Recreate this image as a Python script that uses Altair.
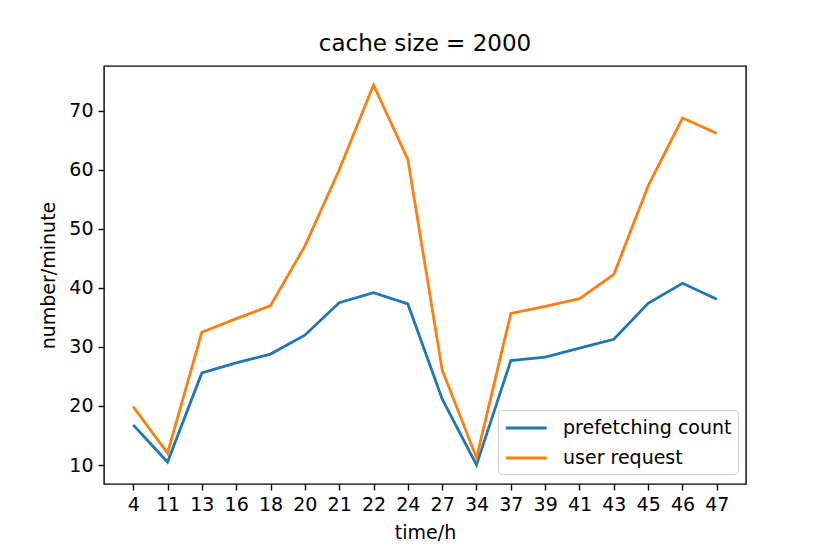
import altair as alt
import pandas as pd

hours = ["4", "11", "13", "16", "18", "20", "21", "22", "24", "27", "34",
         "37", "39", "41", "43", "45", "46", "47"]
prefetching = [16.8, 10.5, 25.6, 27.3, 28.8, 32.0, 37.5, 39.2, 37.3, 21.2, 10.0,
               27.7, 28.3, 29.8, 31.3, 37.4, 40.8, 38.1]
user_request = [19.9, 12.0, 32.5, 34.8, 37.0, 47.1, 60.0, 74.4, 61.8, 26.1, 11.2,
                35.7, 36.9, 38.2, 42.3, 57.3, 68.8, 66.2]
series_names = ["prefetching count", "user request"]
colors = ["#1f77b4", "#ff7f0e"]

rows = []
for i, h in enumerate(hours):
    rows.append({"time": h, "value": prefetching[i], "series": series_names[0], "order": i})
    rows.append({"time": h, "value": user_request[i], "series": series_names[1], "order": i})
df = pd.DataFrame(rows)

FONT = "DejaVu Sans"
FS = 19

chart = alt.Chart(df).mark_line(strokeWidth=2.8).encode(
    x=alt.X("time:N", sort=hours,
            scale=alt.Scale(type="point", padding=0.85),
            axis=alt.Axis(title="time/h", labelAngle=0, grid=False,
                          ticks=True, tickSize=6, tickColor="black",
                          labelPadding=5, titlePadding=9,
                          domain=False)),
    y=alt.Y("value:Q",
            scale=alt.Scale(domain=[6.78, 77.62], nice=False, zero=False),
            axis=alt.Axis(title="number/minute", values=[10, 20, 30, 40, 50, 60, 70],
                          grid=False, tickSize=6, tickColor="black",
                          labelPadding=5, titlePadding=10, domain=False)),
    color=alt.Color("series:N", sort=series_names,
                    scale=alt.Scale(domain=series_names, range=colors),
                    legend=alt.Legend(title=None, orient="none", legendX=394, legendY=344,
                                      symbolType="M-1,0H3", symbolSize=420,
                                      symbolStrokeWidth=2.8,
                                      labelFontSize=FS, labelFont=FONT, labelLimit=400,
                                      labelColor="black", labelOffset=35,
                                      strokeColor="#cccccc", fillColor="white",
                                      padding=6, cornerRadius=4, rowPadding=8)),
    order="order:Q",
).properties(
    width=642, height=418,
    title=alt.Title("cache size = 2000", fontSize=23, font=FONT,
                    fontWeight="normal", color="black", offset=10),
    autosize=alt.AutoSizeParams(type="none"),
    padding={"left": 96, "top": 58, "right": 76, "bottom": 62},
).configure_view(
    stroke="black", strokeWidth=1.4
).configure_axis(
    labelFont=FONT, titleFont=FONT, labelFontSize=FS, titleFontSize=FS,
    labelColor="black", titleColor="black", titleFontWeight="normal",
    tickWidth=1.4
)

chart.save("out.html", embed_options={"renderer": "svg", "actions": False})
